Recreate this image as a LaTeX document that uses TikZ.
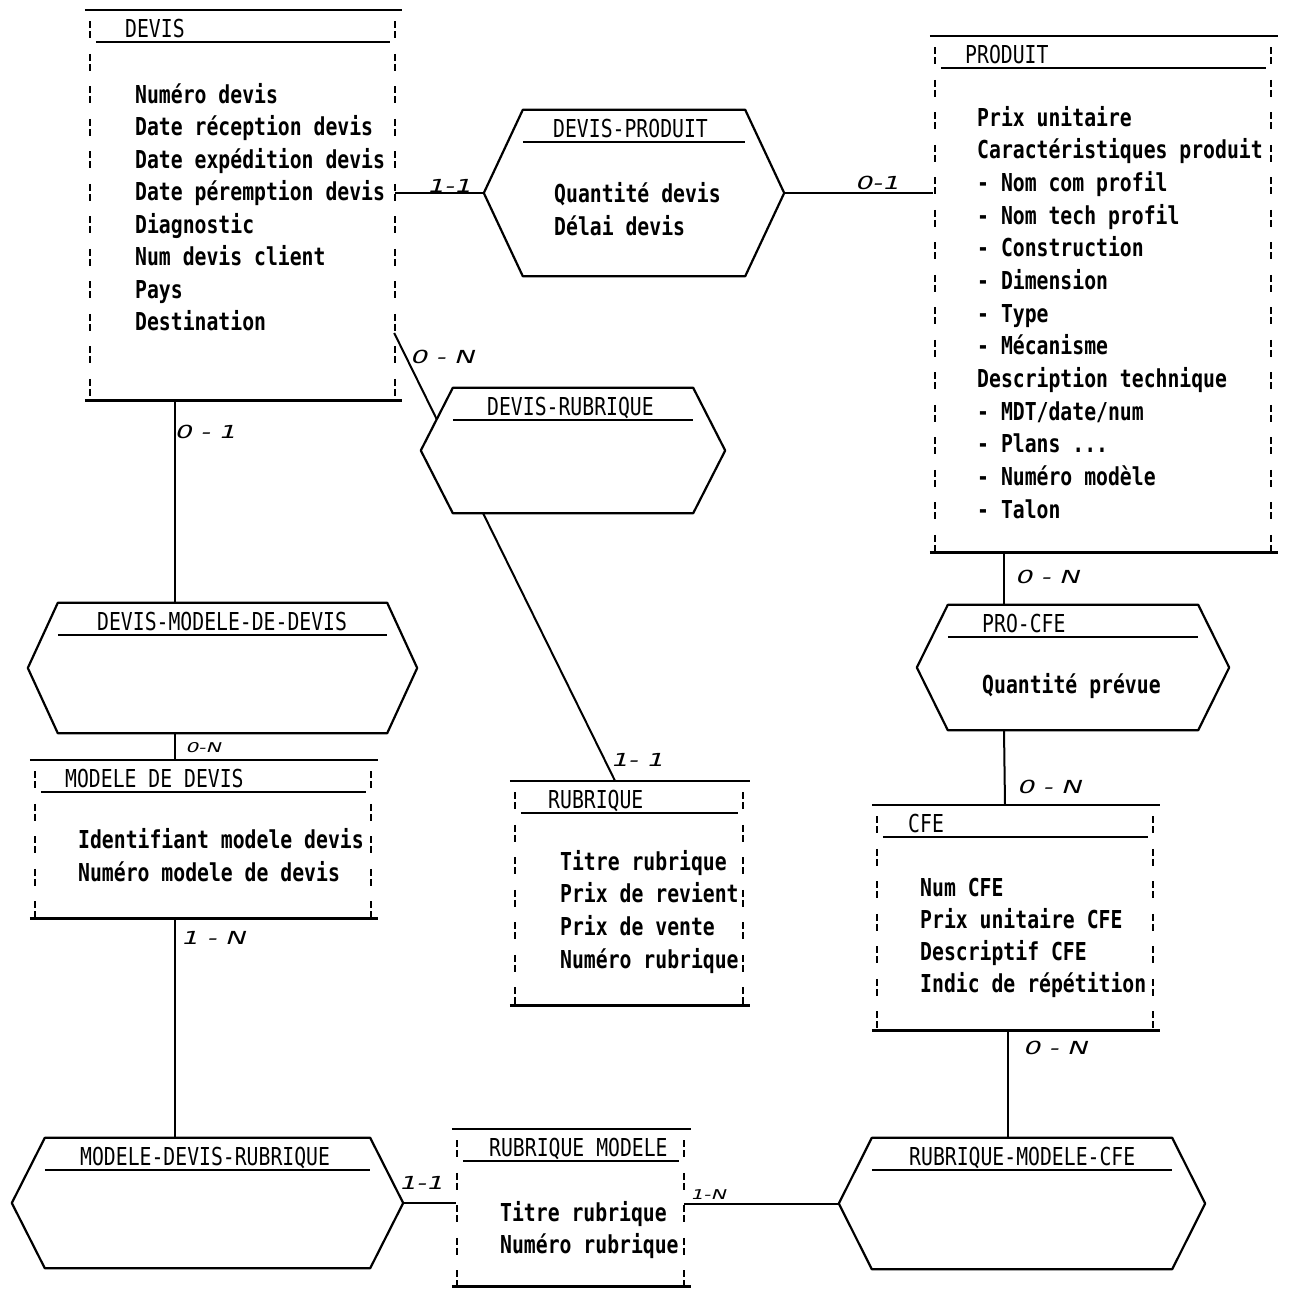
\documentclass[tikz,border=0pt]{standalone}
\usepackage{fontspec}
\usetikzlibrary{backgrounds}
\newfontfamily\typew[FakeStretch=0.8]{DejaVu Sans Mono}
\newfontfamily\hand[FakeStretch=1.5,FakeSlant=0.3]{DejaVu Sans}

% cadre d'une entité : traits pleins en haut et en bas, côtés en pointillé, titre souligné
\newcommand\entframe[1]{%
  \draw[bar] (#1.north west) -- (#1.north east);
  \draw[bar] (#1.south west) -- (#1.south east);
  \draw[side] ([xshift=5pt]#1.north west) -- ([xshift=5pt]#1.south west);
  \draw[side] ([xshift=-7pt]#1.north east) -- ([xshift=-7pt]#1.south east);
  \draw[uline] ([xshift=11pt,yshift=-32pt]#1.north west) -- ([xshift=-12pt,yshift=-32pt]#1.north east);}
% hexagone d'une association (#2 = profondeur des pointes)
\newcommand\relframe[2]{%
  \coordinate (#1-w) at ([xshift=-#2]#1.west);
  \coordinate (#1-e) at ([xshift=#2]#1.east);
  \draw[rel] (#1.north west) -- (#1.north east) -- (#1-e) -- (#1.south east)
    -- (#1.south west) -- (#1-w) -- cycle;
  \draw[uline] ([yshift=-32pt]#1.north west) -- ([yshift=-32pt]#1.north east);}

\begin{document}
\begin{tikzpicture}[x=1pt,y=-1pt,
  box/.style 2 args={rectangle,inner sep=0,minimum width=#1pt,minimum height=#2pt},
  bar/.style={line width=2.6pt},
  side/.style={line width=2pt,dash pattern=on 7pt off 3pt on 7pt off 15.5pt,dash phase=21pt},
  uline/.style={line width=2pt},
  rel/.style={line width=2.2pt,line join=round,fill=white},
  link/.style={line width=2pt},
  ttl/.style={anchor=base west,inner sep=0,font=\typew\fontsize{24.7}{30}\selectfont},
  attr/.style={ttl,font=\typew\bfseries\fontsize{24.7}{30}\selectfont},
  card/.style={inner sep=0,font=\hand\fontsize{18}{18}\selectfont}]
\useasboundingbox (0,0) rectangle (1289,1288);
% ================ entités ================
% DEVIS
\node[box={317}{390}] (devis) at (243.5,205) {};
\entframe{devis}
\node[ttl] (devis-t) at (125,37) {DEVIS};
\foreach \a [count=\i from 0] in {Numéro devis,Date réception devis,Date expédition devis,
  Date péremption devis,Diagnostic,Num devis client,Pays,Destination}
  \node[attr] (devis-\i) at (135,{103+32.5*\i}) {\a};
% PRODUIT
\node[box={348}{516}] (produit) at (1104,294) {};
\entframe{produit}
\node[ttl] (produit-t) at (965,63) {PRODUIT};
\foreach \a [count=\i from 0] in {Prix unitaire,Caractéristiques produit,- Nom com profil,
  - Nom tech profil,- Construction,- Dimension,- Type,- Mécanisme,Description technique,
  - MDT/date/num,- Plans .{}.{}.,- Numéro modèle,- Talon}
  \node[attr] (produit-\i) at (977,{126+32.67*\i}) {\a};
% MODELE DE DEVIS
\node[box={348}{158}] (modele) at (204,839) {};
\entframe{modele}
\node[ttl] (modele-t) at (65,787) {MODELE DE DEVIS};
\foreach \a [count=\i from 0] in {Identifiant modele devis,Numéro modele de devis}
  \node[attr] (modele-\i) at (78,{848+33*\i}) {\a};
% RUBRIQUE
\node[box={240}{224}] (rubrique) at (630,893) {};
\entframe{rubrique}
\node[ttl] (rubrique-t) at (548,808) {RUBRIQUE};
\foreach \a [count=\i from 0] in {Titre rubrique,Prix de revient,Prix de vente,Numéro rubrique}
  \node[attr] (rubrique-\i) at (560,{870+32.7*\i}) {\a};
% CFE
\node[box={288}{225}] (cfe) at (1016,917.5) {};
\entframe{cfe}
\node[ttl] (cfe-t) at (908,832) {CFE};
\foreach \a [count=\i from 0] in {Num CFE,Prix unitaire CFE,Descriptif CFE,Indic de répétition}
  \node[attr] (cfe-\i) at (920,{896+32.3*\i}) {\a};
% RUBRIQUE MODELE
\node[box={239}{157}] (rubmod) at (571.5,1207.5) {};
\entframe{rubmod}
\node[ttl] (rubmod-t) at (489,1156) {RUBRIQUE MODELE};
\foreach \a [count=\i from 0] in {Titre rubrique,Numéro rubrique}
  \node[attr] (rubmod-\i) at (500,{1221+32*\i}) {\a};
% ================ associations ================
\node[box={222}{166}] (devprod) at (634,193) {};
\relframe{devprod}{39pt}
\node[ttl] (devprod-t) at (553,137) {DEVIS-PRODUIT};
\node[attr] (devprod-0) at (554,202) {Quantité devis};
\node[attr] (devprod-1) at (554,235) {Délai devis};
\node[box={240}{125}] (devrub) at (573,450.5) {};
\relframe{devrub}{32pt}
\node[ttl] (devrub-t) at (487,415) {DEVIS-RUBRIQUE};
\node[box={329}{130}] (dmd) at (222.5,668) {};
\relframe{dmd}{30pt}
\node[ttl] (dmd-t) at (97,630) {DEVIS-MODELE-DE-DEVIS};
\node[box={250}{125}] (procfe) at (1073,667.5) {};
\relframe{procfe}{31pt}
\node[ttl] (procfe-t) at (982,632) {PRO-CFE};
\node[attr] (procfe-0) at (982,693) {Quantité prévue};
\node[box={325}{130}] (mdr) at (207.5,1203) {};
\relframe{mdr}{33pt}
\node[ttl] (mdr-t) at (80,1165) {MODELE-DEVIS-RUBRIQUE};
\node[box={300}{131}] (rmc) at (1022,1203.5) {};
\relframe{rmc}{33pt}
\node[ttl] (rmc-t) at (909,1165) {RUBRIQUE-MODELE-CFE};
% ================ liens ================
\begin{scope}[on background layer]
\fill[white] (0,0) rectangle (1289,1288);
\draw[link] ([xshift=-7pt,yshift=12pt]devis.east) -- (devprod-w);
\draw[link] (devprod-e) -- ([xshift=3pt,yshift=101pt]produit.west);
\draw[link] ([xshift=-8pt,yshift=-128pt]devis.east) -- ([xshift=-15pt]rubrique.north);
\draw[link] ([xshift=-68.5pt]devis.south) -- ([xshift=-47.5pt]dmd.north);
\draw[link] ([xshift=-47.5pt]dmd.south) -- ([xshift=-29pt]modele.north);
\draw[link] ([xshift=-29pt]modele.south) -- ([xshift=-32.5pt]mdr.north);
\draw[link] (mdr-e) -- ([xshift=4pt,yshift=4.5pt]rubmod.west);
\draw[link] ([xshift=-7pt,yshift=4pt]rubmod.east) -- (rmc-w);
\draw[link] ([xshift=-100pt]produit.south) -- ([xshift=-69pt]procfe.north);
\draw[link] ([xshift=-69pt]procfe.south) -- ([xshift=-11pt]cfe.north);
\draw[link] ([xshift=-8pt]cfe.south) -- ([xshift=-14pt]rmc.north);
\end{scope}
% cardinalités
\node[card] (card-devis-dp) at (449,186) {1-1};
\node[card] (card-prod-dp) at (877,183) {0-1};
\node[card] (card-devis-dr) at (442,357) {0 - N};
\node[card] (card-devis-dmd) at (205,432) {0 - 1};
\node[card,scale=0.75] (card-mod-dmd) at (203,748) {0-N};
\node[card] (card-mod-mdr) at (213,938) {1 - N};
\node[card] (card-rub-dr) at (637,760) {1- 1};
\node[card] (card-prod-pc) at (1047,577) {0 - N};
\node[card] (card-cfe-pc) at (1049,787) {0 - N};
\node[card] (card-cfe-rmc) at (1055,1048) {0 - N};
\node[card] (card-rm-mdr) at (421,1183) {1-1};
\node[card,scale=0.75] (card-rm-rmc) at (708,1195) {1-N};
\end{tikzpicture}
\end{document}
